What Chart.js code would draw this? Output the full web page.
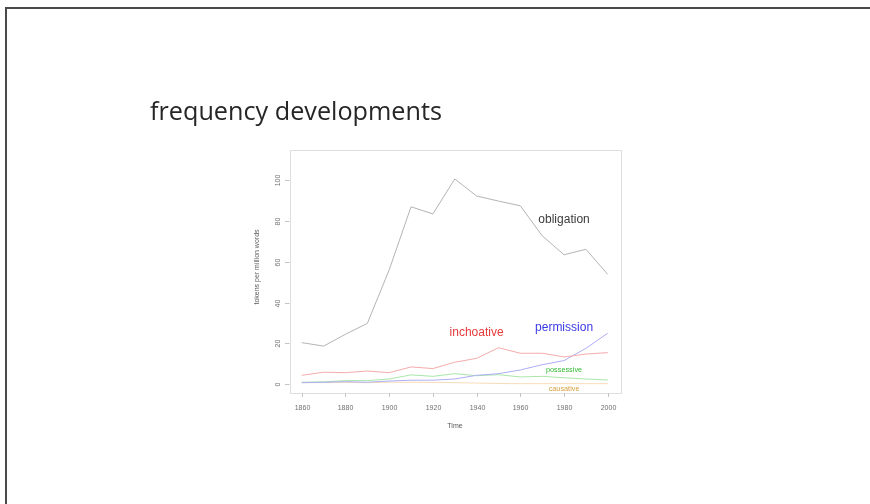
<!DOCTYPE html>
<html>
<head>
<meta charset="utf-8">
<script src="https://cdn.jsdelivr.net/npm/chart.js@4/dist/chart.umd.min.js"></script>
<style>
  html, body { margin: 0; padding: 0; background: #ffffff; }
  #wrap { width: 870px; height: 504px; position: relative; }
</style>
</head>
<body>
<div id="wrap"><canvas id="c" width="870" height="504"></canvas></div>
<script>
// ---- data ----
const years = [1860, 1870, 1880, 1890, 1900, 1910, 1920, 1930, 1940, 1950, 1960, 1970, 1980, 1990, 2000];
const obligation = [20.4, 18.7, 24.5, 29.8, 56.0, 86.9, 83.4, 100.5, 92.2, 89.7, 87.4, 72.7, 63.4, 66.1, 53.8];
const inchoative = [4.4, 5.9, 5.7, 6.5, 5.7, 8.5, 7.7, 10.8, 12.7, 17.9, 15.2, 15.2, 13.4, 14.8, 15.5];
const permission = [0.8, 1.0, 1.3, 1.0, 1.6, 2.0, 2.0, 2.6, 4.4, 5.2, 7.0, 9.6, 11.6, 17.6, 25.0];
const possessive = [1.0, 1.2, 1.8, 1.8, 2.6, 4.6, 3.9, 5.2, 4.2, 4.7, 3.6, 3.9, 3.2, 2.6, 2.1];
const causative = [0.8, 0.8, 0.9, 0.8, 1.0, 1.0, 0.9, 0.8, 0.6, 0.4, 0.3, 0.3, 0.3, 0.3, 0.3];
const seriesNames = ["obligation", "inchoative", "permission", "possessive", "causative"];
const xTicks = [1860, 1880, 1900, 1920, 1940, 1960, 1980, 2000];
const yTicks = [0, 20, 40, 60, 80, 100];
// label anchor positions (data coords) as in the R text() calls
const labelX = [1980, 1940, 1980, 1980, 1980];
const labelY = [80.4, 25.1, 27.6, 7.0, -2.3];
const title = "frequency developments";
const xTitle = "Time";
const yTitle = "tokens per million words";

// ---- styles ----
const lineColors = ["#b4b4b4", "#f6acac", "#aeaef6", "#aae6aa", "#f8dcb8"];
const textColors = ["#3a3a3a", "#e83a3a", "#3a3ae6", "#33bb33", "#d8a040"];
const textSizes = [12, 12, 12, 7.3, 7.3];

const toPts = arr => arr.map((v, i) => ({ x: years[i], y: v }));
const allSeries = [obligation, inchoative, permission, possessive, causative];

const decor = {
  id: 'decor',
  beforeDraw(chart) {
    const ctx = chart.ctx;
    ctx.save();
    ctx.fillStyle = '#ffffff';
    ctx.fillRect(0, 0, chart.width, chart.height);
    ctx.restore();
  },
  afterDraw(chart) {
    const ctx = chart.ctx;
    const xs = chart.scales.x, ys = chart.scales.y;
    const a = chart.chartArea;
    ctx.save();
    // slide border (top + left)
    ctx.fillStyle = '#4a4a4a';
    ctx.fillRect(5, 7, 870 - 5, 2);
    ctx.fillRect(5, 7, 2, 504 - 7);

    // title
    ctx.fillStyle = '#262626';
    ctx.font = '400 25px "Open Sans", "Liberation Sans", sans-serif';
    ctx.textBaseline = 'alphabetic';
    ctx.textAlign = 'left';
    const tw = ctx.measureText(title).width;
    ctx.save();
    ctx.translate(150, 120);
    ctx.scale(292 / tw, 1.04);
    ctx.fillText(title, 0, 0);
    ctx.restore();

    // plot box
    ctx.strokeStyle = '#dedede';
    ctx.lineWidth = 1;
    ctx.strokeRect(Math.round(a.left) + 0.5, Math.round(a.top) + 0.5,
                   Math.round(a.right - a.left), Math.round(a.bottom - a.top));

    ctx.strokeStyle = '#c4c4c4';
    ctx.fillStyle = '#707070';
    ctx.font = '7px "Liberation Sans", Arial, sans-serif';
    // x ticks
    ctx.textAlign = 'center';
    ctx.textBaseline = 'middle';
    xTicks.forEach(t => {
      const px = Math.round(xs.getPixelForValue(t)) + 0.5;
      ctx.beginPath();
      ctx.moveTo(px, a.bottom);
      ctx.lineTo(px, a.bottom + 4);
      ctx.stroke();
      ctx.fillText(String(t), px, 408);
    });
    // y ticks
    yTicks.forEach(t => {
      const py = Math.round(ys.getPixelForValue(t)) + 0.5;
      ctx.beginPath();
      ctx.moveTo(a.left - 4.5, py);
      ctx.lineTo(a.left, py);
      ctx.stroke();
      ctx.save();
      ctx.translate(278, py);
      ctx.rotate(-Math.PI / 2);
      ctx.fillText(String(t), 0, 0);
      ctx.restore();
    });
    // axis titles
    ctx.fillStyle = '#5a5a5a';
    ctx.fillText(xTitle, 455, 426);
    ctx.save();
    ctx.translate(257, 267);
    ctx.rotate(-Math.PI / 2);
    ctx.fillText(yTitle, 0, 0);
    ctx.restore();

    // series labels
    seriesNames.forEach((n, i) => {
      ctx.fillStyle = textColors[i];
      ctx.font = textSizes[i] + 'px "Liberation Sans", Arial, sans-serif';
      ctx.fillText(n, xs.getPixelForValue(labelX[i]), ys.getPixelForValue(labelY[i]));
    });
    ctx.restore();
  }
};

new Chart(document.getElementById('c'), {
  type: 'line',
  data: {
    datasets: allSeries.map((arr, i) => ({
      label: seriesNames[i],
      data: toPts(arr),
      borderColor: lineColors[i],
      borderWidth: 1,
      pointRadius: 0,
      tension: 0,
      fill: false
    }))
  },
  options: {
    responsive: false,
    animation: false,
    devicePixelRatio: 1,
    layout: { padding: { left: 289.5, right: 250, top: 150, bottom: 111 } },
    plugins: { legend: { display: false }, tooltip: { enabled: false }, title: { display: false } },
    scales: {
      x: { type: 'linear', display: false, min: 1854.4, max: 2005.6 },
      y: { type: 'linear', display: false, min: -4.26, max: 114.7 }
    }
  },
  plugins: [decor]
});
</script>
</body>
</html>
